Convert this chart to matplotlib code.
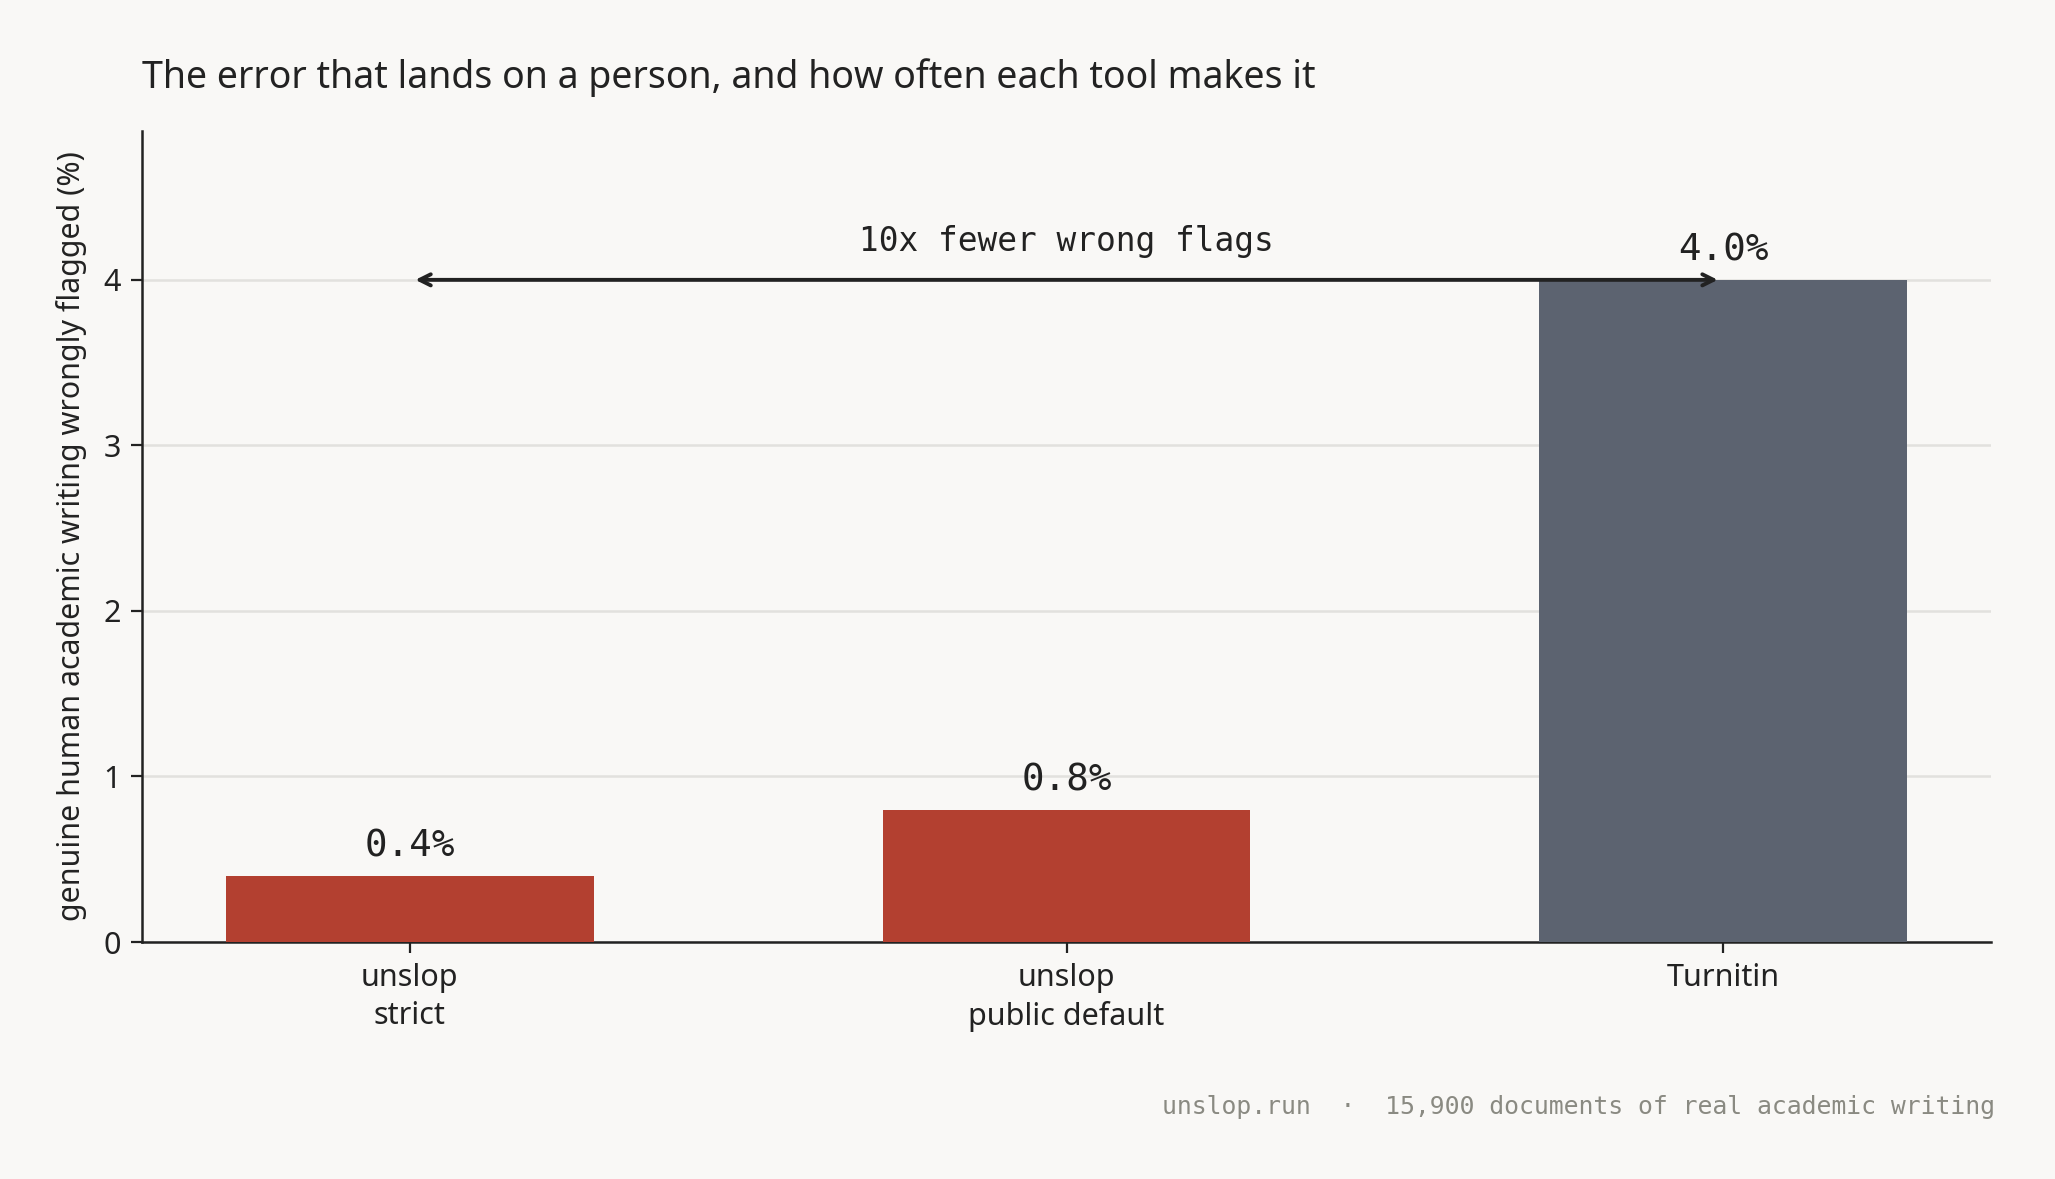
import matplotlib
matplotlib.use("Agg")
import matplotlib.pyplot as plt
import numpy as np

# data
tools = ["unslop\nstrict", "unslop\npublic default", "Turnitin"]
false_flag_pct = [0.4, 0.8, 4.0]
bar_colors = ["#b34030", "#b34030", "#5c6370"]

BG = "#f9f8f6"
INK = "#222222"
MONO = ["DejaVu Sans Mono"]

plt.rcParams["font.family"] = ["Noto Sans", "DejaVu Sans"]

fig = plt.figure(figsize=(10.275, 5.895), dpi=200, facecolor=BG)
ax = fig.add_axes([0.069, 0.201, 0.900, 0.688], facecolor=BG)

x = np.arange(len(tools))
ax.bar(x, false_flag_pct, width=0.56, color=bar_colors, zorder=3)

for xi, v in zip(x, false_flag_pct):
    ax.text(xi, v + 0.07, f"{v:.1f}%", ha="center", va="bottom",
            fontsize=13.5, color=INK, family=MONO, zorder=4)

# arrow between strict and turnitin
ax.annotate("", xy=(2, 4.0), xytext=(0, 4.0),
            arrowprops=dict(arrowstyle="<->", color=INK, lw=1.4,
                            shrinkA=2, shrinkB=2), zorder=5)
ax.text(1, 4.13, "10x fewer wrong flags", ha="center", va="bottom",
        fontsize=11.8, color=INK, family=MONO)

ax.set_ylim(0, 4.9)
ax.set_yticks([0, 1, 2, 3, 4])
ax.set_xticks(x)
ax.set_xticklabels(tools, fontsize=11, color=INK, linespacing=1.35)
ax.tick_params(axis="y", labelsize=11, colors=INK)
ax.tick_params(axis="both", length=4, width=0.8, color=INK)
ax.set_ylabel("genuine human academic writing wrongly flagged (%)",
              fontsize=10.95, color=INK, labelpad=6)
ax.yaxis.grid(True, color="#e2e1de", lw=0.9, zorder=0)
ax.set_axisbelow(True)
for s in ["top", "right"]:
    ax.spines[s].set_visible(False)
for s in ["left", "bottom"]:
    ax.spines[s].set_color(INK)
    ax.spines[s].set_linewidth(0.9)

fig.text(0.069, 0.934, "The error that lands on a person, and how often each tool makes it",
         ha="left", va="center", fontsize=13.5, color=INK)
fig.text(0.971, 0.061, "unslop.run  \u00b7  15,900 documents of real academic writing",
         ha="right", va="center", fontsize=8.9, color="#8a8a82", family=MONO)

fig.savefig("out.png", dpi=200, facecolor=BG)
